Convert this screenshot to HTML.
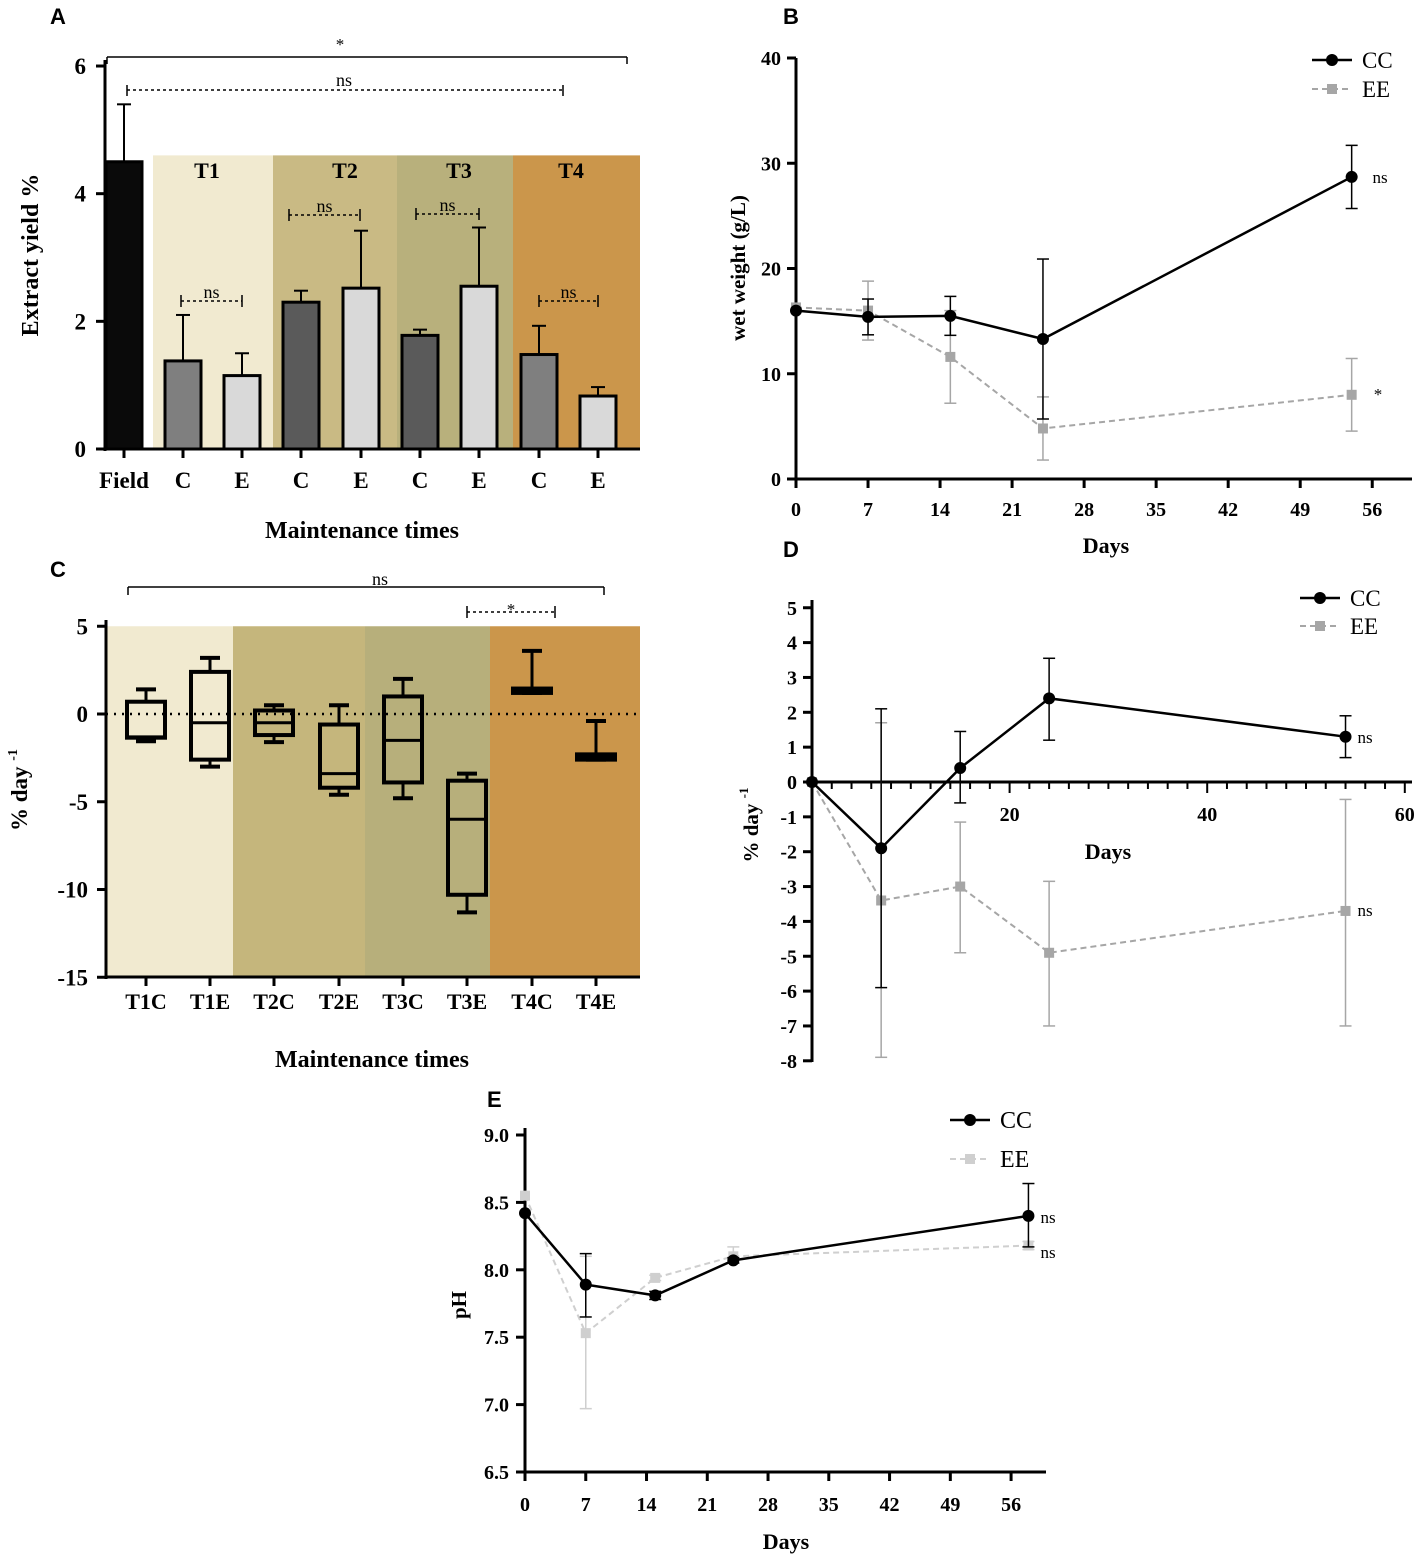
<!DOCTYPE html>
<html><head><meta charset="utf-8"><style>
body{margin:0;background:#fff}
svg{display:block;font-family:"Liberation Serif",serif}
.L{font-family:"Liberation Sans",sans-serif;font-weight:bold;font-size:22px}
</style></head><body>
<svg id="s" width="1417" height="1554" viewBox="0 0 1417 1554">
<text class="L" x="50" y="24">A</text>
<text class="L" x="783" y="24">B</text>
<text class="L" x="50" y="577">C</text>
<text class="L" x="783" y="557">D</text>
<text class="L" x="487" y="1107">E</text>
</svg>
<script>
// Panel A data
const aCats=["Field","C","E","C","E","C","E","C","E"];
const aVals=[4.5,1.38,1.15,2.3,2.52,1.78,2.55,1.48,0.83];
const aErr=[0.9,0.72,0.35,0.18,0.9,0.09,0.92,0.45,0.14];
const aTicks=[0,2,4,6];
// Panel B data
const bDays=[0,7,15,24,54];
const bCC=[16,15.4,15.5,13.3,28.7];
const bCCerr=[0,1.7,1.85,7.6,3.0];
const bEE=[16.3,16,11.6,4.8,8];
const bEEerr=[0,2.8,4.4,3.0,3.45];
const bXTicks=[0,7,14,21,28,35,42,49,56];
const bYTicks=[0,10,20,30,40];
// Panel C data
const cCats=["T1C","T1E","T2C","T2E","T3C","T3E","T4C","T4E"];
const cMin=[-1.55,-3,-1.6,-4.6,-4.8,-11.3,1.2,-2.6];
const cQ1=[-1.35,-2.6,-1.2,-4.2,-3.9,-10.3,1.2,-2.6];
const cMed=[-1.3,-0.5,-0.5,-3.4,-1.5,-6,1.3,-2.45];
const cQ3=[0.7,2.4,0.2,-0.6,1.0,-3.8,1.45,-2.3];
const cMax=[1.4,3.2,0.5,0.5,2.0,-3.4,3.6,-0.4];
const cTicks=[5,0,-5,-10,-15];
// Panel D data
const dDays=[0,7,15,24,54];
const dCC=[0,-1.9,0.4,2.4,1.3];
const dCClo=[0,-5.9,-0.6,1.2,0.7];
const dCChi=[0,2.1,1.45,3.55,1.9];
const dEE=[0,-3.4,-3.0,-4.9,-3.7];
const dEElo=[0,-7.9,-4.9,-7,-7];
const dEEhi=[0,1.7,-1.15,-2.85,-0.5];
const dYTicks=[5,4,3,2,1,0,-1,-2,-3,-4,-5,-6,-7,-8];
const dXTicks=[20,40,60];
// Panel E data
const eDays=[0,7,15,24,58];
const eCC=[8.42,7.89,7.81,8.07,8.4];
const eCClo=[8.42,7.65,7.78,8.05,8.17];
const eCChi=[8.42,8.12,7.84,8.09,8.64];
const eEE=[8.55,7.53,7.94,8.1,8.18];
const eEElo=[8.55,6.97,7.92,8.05,8.15];
const eEEhi=[8.55,8.1,7.96,8.17,8.21];
const eYTicks=[6.5,7.0,7.5,8.0,8.5,9.0];
const eXTicks=[0,7,14,21,28,35,42,49,56];

const S=document.getElementById('s');const NS='http://www.w3.org/2000/svg';
function el(tag,at,txt){const e=document.createElementNS(NS,tag);for(const k in at)e.setAttribute(k,at[k]);if(txt!==undefined)e.textContent=txt;S.appendChild(e);return e;}
function line(x1,y1,x2,y2,st,w,da){return el('line',{x1,y1,x2,y2,stroke:st||'#000','stroke-width':w||3,'stroke-dasharray':da||'none'});}
function txt(x,y,s,o){o=o||{};const fs=o.fs||22,fw=o.fw||'bold';const at={x,y,'text-anchor':o.anchor||'middle',style:'font-size:'+fs+'px;font-weight:'+fw};if(o.transform)at.transform=o.transform;return el('text',at,s);}
function ylab(x,y,main,fs){const e=el('text',{x:0,y:0,'text-anchor':'middle',transform:'translate('+x+','+y+') rotate(-90)',style:'font-size:'+fs+'px;font-weight:bold'});
const t1=document.createElementNS(NS,'tspan');t1.textContent=main;e.appendChild(t1);
const t2=document.createElementNS(NS,'tspan');t2.setAttribute('dy','-10');t2.setAttribute('style','font-size:'+Math.round(fs*0.6)+'px');t2.textContent='-1';e.appendChild(t2);}

// ===== Panel A =====
const ay=v=>449-v*63.83;
const aX=[124,183,242,301,361,420,479,539,598];
const bands=[[153,273,'#f1ead0','T1',207],[273,397,'#c9ba84','T2',345],[397,513,'#b8b07c','T3',459],[513,640,'#cb964b','T4',571]];
bands.forEach(b=>{const r=el('rect',{x:b[0],y:ay(4.6),width:b[1]-b[0],height:ay(0)-ay(4.6),fill:b[2]});


txt(b[4],178,b[3],{fs:22});});
const aFill=['#0a0a0a','#7f7f7f','#d9d9d9','#5a5a5a','#d9d9d9','#5a5a5a','#d9d9d9','#7f7f7f','#d9d9d9'];
aVals.forEach((v,i)=>{const x=aX[i];const w=36;
line(x,ay(v),x,ay(v+aErr[i]),'#000',2);line(x-w/4+2,ay(v+aErr[i]),x+w/4-2,ay(v+aErr[i]),'#000',2);
const r=el('rect',{x:x-w/2,y:ay(v),width:w,height:ay(0)-ay(v),fill:aFill[i],stroke:'#000','stroke-width':3});


txt(x,488,aCats[i],{fs:23});});
line(105,60,105,451,'#000',3);line(103.5,449,640,449,'#000',3);
aTicks.forEach(t=>{line(96,ay(t),105,ay(t));txt(86,ay(t)+8,t,{anchor:'end',fs:23});});
aX.forEach(x=>line(x,449,x,458));
txt(362,538,'Maintenance times',{fs:24});
txt(0,0,'Extract yield %',{transform:'translate(38,255) rotate(-90)',fs:24});
line(107,57,627,57,'#000',1.5);line(107,57,107,64,'#000',1.5);line(627,57,627,64,'#000',1.5);txt(340,50,'*',{fw:'normal',fs:17});
line(127,90,563,90,'#000',1.5,'3,3');line(127,85,127,96,'#000',1.5);line(563,85,563,96,'#000',1.5);txt(344,86,'ns',{fw:'normal',fs:18});
[[181,242,301],[289,360,215],[416,479,214],[539,598,301]].forEach(b=>{line(b[0],b[2],b[1],b[2],'#000',1.5,'3,3');line(b[0],b[2]-6,b[0],b[2]+6,'#000',1.5);line(b[1],b[2]-6,b[1],b[2]+6,'#000',1.5);txt((b[0]+b[1])/2,b[2]-3,'ns',{fw:'normal',fs:18});});

// ===== Panel B =====
const bx=d=>796+d*10.29, by=v=>479-v*10.525;
line(796,58,796,481);line(794,479,1412,479);
bYTicks.forEach(t=>{line(787,by(t),796,by(t));txt(781,by(t)+7,t,{anchor:'end',fs:20});});
bXTicks.forEach(t=>{line(bx(t),479,bx(t),488);txt(bx(t),516,t,{fs:20});});
txt(1106,553,'Days',{fs:22});
txt(0,0,'wet weight (g/L)',{transform:'translate(745,268) rotate(-90)',fs:21});
function series(xs,ys,lo,hi,fx,fy,col,dash,marker,w,nm){
 xs.forEach((d,i)=>{if(lo[i]!==hi[i]){line(fx(d),fy(lo[i]),fx(d),fy(hi[i]),col,1.5);line(fx(d)-6,fy(lo[i]),fx(d)+6,fy(lo[i]),col,1.5);line(fx(d)-6,fy(hi[i]),fx(d)+6,fy(hi[i]),col,1.5);}});
 const p=el('polyline',{points:xs.map((d,i)=>fx(d)+','+fy(ys[i])).join(' '),fill:'none',stroke:col,'stroke-width':w,'stroke-dasharray':dash});
 
 
 xs.forEach((d,i)=>{let m;if(marker==='c')m=el('circle',{cx:fx(d),cy:fy(ys[i]),r:6,fill:col});else m=el('rect',{x:fx(d)-5,y:fy(ys[i])-5,width:10,height:10,fill:col});
 
 });
}
series(bDays,bEE,bEE.map((v,i)=>v-bEEerr[i]),bEE.map((v,i)=>v+bEEerr[i]),bx,by,'#a6a6a6','6,4','s',2,'b-ee');
series(bDays,bCC,bCC.map((v,i)=>v-bCCerr[i]),bCC.map((v,i)=>v+bCCerr[i]),bx,by,'#000','none','c',2.5,'b-cc');
function legend(x,y1,y2,eeCol,fs){line(x,y1,x+40,y1,'#000',2.5);el('circle',{cx:x+20,cy:y1,r:6,fill:'#000'});txt(x+50,y1+8,'CC',{anchor:'start',fw:'normal',fs:fs});
line(x,y2,x+40,y2,eeCol,2,'6,4');el('rect',{x:x+15,y:y2-5,width:10,height:10,fill:eeCol});txt(x+50,y2+8,'EE',{anchor:'start',fw:'normal',fs:fs});}
legend(1312,60,89,'#a6a6a6',23);
txt(1380,183,'ns',{fw:'normal',fs:17});txt(1378,400,'*',{fw:'normal',fs:17});

// ===== Panel C =====
const cy=v=>714-v*17.55;
const cX=[146,210,274,339,403,467,532,596];
[[106,233,'#f1ead0'],[233,365,'#c5b67c'],[365,490,'#b7af7b'],[490,640,'#cb964b']].forEach((b,i)=>{const r=el('rect',{x:b[0],y:cy(5),width:b[1]-b[0],height:cy(-15)-cy(5),fill:b[2]});

});
line(106,714,640,714,'#000',2.5,'2,6');
cCats.forEach((c,i)=>{const x=cX[i],w=38,hw=10;
line(x,cy(cMax[i]),x,cy(cQ3[i]));line(x,cy(cMin[i]),x,cy(cQ1[i]));
line(x-hw,cy(cMax[i]),x+hw,cy(cMax[i]),'#000',4);line(x-hw,cy(cMin[i]),x+hw,cy(cMin[i]),'#000',4);
const h=Math.max(cy(cQ1[i])-cy(cQ3[i]),3);
const r=el('rect',{x:x-w/2,y:cy(cQ3[i]),width:w,height:h,fill:'none',stroke:'#000','stroke-width':4});


line(x-w/2,cy(cMed[i]),x+w/2,cy(cMed[i]));
line(x,977,x,986);txt(x,1009,c,{fs:22});});
line(106,620,106,979);line(104.5,977,640,977);
cTicks.forEach(t=>{line(97,cy(t),106,cy(t));txt(88,cy(t)+8,t,{anchor:'end',fs:23});});
txt(372,1067,'Maintenance times',{fs:24});
ylab(27,790,'% day ',23);
line(128,587,604,587,'#000',1.5);line(128,587,128,595,'#000',1.5);line(604,587,604,595,'#000',1.5);txt(380,585,'ns',{fw:'normal',fs:18});
line(467,612,555,612,'#000',1.5,'3,3');line(467,606,467,618,'#000',1.5);line(555,606,555,618,'#000',1.5);txt(511,615,'*',{fw:'normal',fs:17});

// ===== Panel D =====
const dx=d=>812+d*9.88, dy=v=>782-v*34.85;
line(812,600,812,1062);line(810,782,1412,782);
dYTicks.forEach(t=>{line(803,dy(t),812,dy(t));txt(797,dy(t)+7,t,{anchor:'end',fs:20});});
for(let d=2;d<=60;d+=2){line(dx(d),782,dx(d),(d%20===0)?793:789,'#000',2);}
dXTicks.forEach(t=>txt(dx(t),821,t,{fs:20}));
txt(1108,859,'Days',{fs:22});
ylab(758,825,'% day ',21);
series(dDays,dEE,dEElo,dEEhi,dx,dy,'#a6a6a6','6,4','s',2,'d-ee');
series(dDays,dCC,dCClo,dCChi,dx,dy,'#000','none','c',2.5,'d-cc');
legend(1300,598,626,'#a6a6a6',23);
txt(1365,743,'ns',{fw:'normal',fs:17});txt(1365,916,'ns',{fw:'normal',fs:17});

// ===== Panel E =====
const ex=d=>525+d*8.68, ey=v=>1472-(v-6.5)*134.8;
line(525,1128,525,1474);line(523,1472,1046,1472);
eYTicks.forEach(t=>{line(516,ey(t),525,ey(t));txt(509,ey(t)+7,t.toFixed(1),{anchor:'end',fs:20});});
eXTicks.forEach(t=>{line(ex(t),1472,ex(t),1481);txt(ex(t),1511,t,{fs:20});});
txt(786,1549,'Days',{fs:22});
txt(0,0,'pH',{transform:'translate(466,1305) rotate(-90)',fs:21});
series(eDays,eEE,eEElo,eEEhi,ex,ey,'#cfcfcf','6,4','s',2,'e-ee');
series(eDays,eCC,eCClo,eCChi,ex,ey,'#000','none','c',2.5,'e-cc');
legend(950,1120,1159,'#cfcfcf',24);
txt(1048,1223,'ns',{fw:'normal',fs:17});txt(1048,1258,'ns',{fw:'normal',fs:17});
</script>
</body></html>
